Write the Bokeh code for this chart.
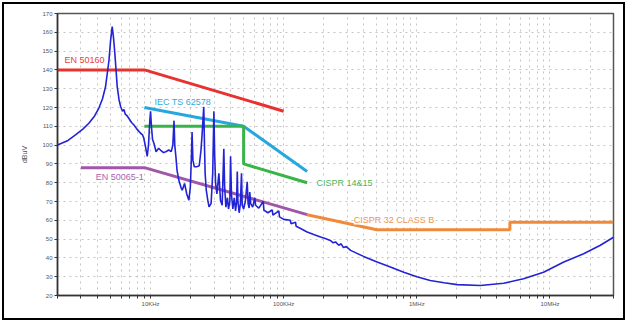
from bokeh.plotting import figure
from bokeh.models import FixedTicker, Label, Range1d
from bokeh.embed import file_html
from bokeh.resources import INLINE

# ---- measured emission curve (Hz, dBuV) ----
meas_freq = [2000, 2400, 2730, 3100, 3440, 3800, 4090, 4350, 4590, 4870, 5000, 5150, 5270, 5390,
             5620, 5800, 5960, 6150, 6310, 6450, 6680, 6900, 7200, 7500, 7900, 8410, 8700, 8900,
             9170, 9440, 9650, 9850, 10000, 10150, 10350, 10600, 11000, 11500, 12000, 12500,
             13000, 13700, 14300, 14700, 15000, 15200, 15500, 15800, 16300, 17000, 17300, 18000,
             18700, 19400, 19900, 20300, 20500, 20800, 21300, 22200, 23200, 23900, 24400, 25100,
             25400, 25700, 26200, 26900, 27500, 28500, 29300, 29900, 30300, 30800, 31500, 32600,
             33500, 34500, 35500, 36000, 36800, 37800, 38500, 39400, 39900, 40500, 41500, 42500,
             43500, 44300, 44800, 45300, 46300, 47300, 48200, 48800, 50000, 51500, 53200, 54000,
             55000, 55600, 56500, 58500, 60700, 61500, 65000, 70200, 71000, 76000, 82000, 83000,
             91900, 93000, 100000, 112000, 113500, 122700, 124000, 135000, 150000, 170000, 189000,
             205000, 224000, 235000, 245000, 259000, 270000, 281000, 295000, 318000, 398000,
             503000, 640000, 798000, 1000000, 1260000, 1600000, 2010000, 3000000, 4490000,
             6340000, 8950000, 12700000, 17900000, 23900000, 30000000]
meas_db = [100, 102.5, 105.4, 108.5, 111.6, 115.5, 119.7, 124.5, 131, 145, 155, 163, 157, 149,
           131, 124, 120.5, 118, 119, 116.5, 115.5, 114, 112, 110.7, 108.5, 106.3, 105.5, 103.6,
           99, 94, 100, 112, 118, 110, 103, 101, 96.5, 98.3, 97, 96,
           96.5, 97.4, 96.5, 100, 113, 100, 93.8, 86.7, 81.4, 77, 76, 79.6,
           74, 70.7, 77.8, 95, 107, 92, 88.5, 88.5, 89, 97, 106, 120.5,
           100, 85, 76, 70.7, 67.1, 69, 85, 118, 95, 79.6, 74, 85,
           70.7, 68, 98, 78, 67, 72, 66, 70, 94, 74, 66, 72,
           65, 70, 86, 70, 64, 69, 85, 68, 66, 70, 80.5, 69,
           66.5, 75, 68.9, 67, 72, 68, 66.5, 70, 65.4, 64, 65.5, 62.7,
           65, 61.8, 60.5, 60, 58.2, 59, 56.8, 55.5, 53.8, 52.3, 51.1,
           50.3, 49.3, 48, 48.5, 46.7, 47.5, 45.5, 46, 44, 40.8,
           37.8, 35, 32.4, 30, 28, 26.8, 25.8, 25.3, 26.5,
           28.9, 32.4, 37.8, 42.2, 46.7, 51]

# ---- limit lines ----
en50160_freq = [2000, 9000, 100000]
en50160_db = [140, 140, 118]
iec62578_freq = [9000, 50000, 150000]
iec62578_db = [120, 110, 86]
cispr14_freq = [9000, 50000, 50000, 150000]
cispr14_db = [110, 110, 90, 80]
en50065_freq = [3000, 9000, 150000]
en50065_db = [88, 88, 63]
cispr32_freq = [150000, 500000, 5000000, 5000000, 30000000]
cispr32_db = [63, 55, 55, 59, 59]

# ---- axes ----
y_ticks = [20, 30, 40, 50, 60, 70, 80, 90, 100, 110, 120, 130, 140, 150, 160, 170]
x_major = [10000, 100000, 1000000, 10000000]
x_major_labels = ["10KHz", "100KHz", "1MHz", "10MHz"]
x_minor = [2000, 3000, 4000, 5000, 6000, 7000, 8000, 9000,
           20000, 30000, 40000, 50000, 60000, 70000, 80000, 90000,
           200000, 300000, 400000, 500000, 600000, 700000, 800000, 900000,
           2000000, 3000000, 4000000, 5000000, 6000000, 7000000, 8000000, 9000000,
           20000000, 30000000]

FONT = "Liberation Sans"

p = figure(width=623, height=318, x_axis_type="log",
           x_range=Range1d(2000, 30000000), y_range=Range1d(20, 170),
           output_backend="svg", toolbar_location=None,
           min_border_left=53, min_border_right=14, min_border_top=9, min_border_bottom=27)
p.styles = {"border": "2px solid black", "position": "relative", "left": "2px", "top": "2px"}
p.background_fill_color = "white"
p.border_fill_color = "white"
p.outline_line_color = "#555555"
p.outline_line_width = 1.5

xt = FixedTicker(ticks=x_major, minor_ticks=x_minor)
yt = FixedTicker(ticks=y_ticks)
p.xaxis.ticker = xt
p.yaxis.ticker = yt
p.xgrid.ticker = xt
p.ygrid.ticker = yt
p.xaxis.major_label_overrides = {v: s for v, s in zip(x_major, x_major_labels)}

for g in (p.xgrid, p.ygrid):
    g.grid_line_color = "#c4c4c4"
    g.grid_line_dash = "dotted"
    g.grid_line_width = 1
p.xgrid.minor_grid_line_color = "#c4c4c4"
p.xgrid.minor_grid_line_dash = "dotted"

for ax in (p.xaxis, p.yaxis):
    ax.axis_line_color = "#333333"
    ax.axis_line_width = 1.5
    ax.major_tick_line_color = "#333333"
    ax.major_tick_out = 3
    ax.major_tick_in = 0
    ax.major_label_text_font = FONT
    ax.major_label_text_font_size = "6px"
    ax.major_label_text_color = "#555555"
    ax.major_label_standoff = 2
p.xaxis.minor_tick_line_color = "#333333"
p.xaxis.minor_tick_out = 3
p.xaxis.minor_tick_in = 0
p.yaxis.minor_tick_line_color = None
p.yaxis.axis_label = "dBuV"
p.yaxis.axis_label_text_font = FONT
p.yaxis.axis_label_text_font_size = "7px"
p.yaxis.axis_label_text_font_style = "normal"
p.yaxis.axis_label_text_color = "#555555"
p.yaxis.axis_label_standoff = 11

p.line(en50160_freq, en50160_db, line_color="#e8322f", line_width=3)
p.line(iec62578_freq, iec62578_db, line_color="#27a7df", line_width=3)
p.line(cispr14_freq, cispr14_db, line_color="#38b548", line_width=3)
p.line(cispr32_freq, cispr32_db, line_color="#f08a3a", line_width=3)
p.line(en50065_freq, en50065_db, line_color="#a057aa", line_width=3)
p.line(meas_freq, meas_db, line_color="#2323d6", line_width=1.6)

labels = [
    ("EN 50160", 2260, 145.4, "#e8403a"),
    ("IEC TS 62578", 10700, 123, "#35a9dd"),
    ("CISPR 14&15", 176000, 80.1, "#4cb45a"),
    ("CISPR 32 CLASS B", 336000, 60.4, "#f0924f"),
    ("EN 50065-1", 3870, 83.1, "#a866b0"),
]
for txt, lx, ly, col in labels:
    p.add_layout(Label(x=lx, y=ly, text=txt, text_color=col, text_font=FONT,
                       text_font_size="9px", text_baseline="middle", text_align="left",
                       background_fill_color="white", background_fill_alpha=1.0))

open("out.html", "w").write(file_html(p, INLINE))
